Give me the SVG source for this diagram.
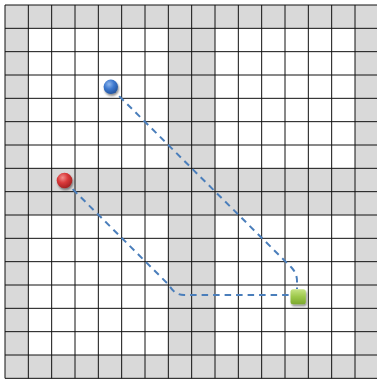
<svg xmlns="http://www.w3.org/2000/svg" width="377" height="379" viewBox="0 0 377 379">
  <defs>
    <style>
      .shade { fill: #d9d9d9; }
      .grid { fill: none; stroke: #111; stroke-width: 1; }
      .conn { fill: none; stroke: #4a7ebb; stroke-width: 2; stroke-dasharray: 6.5 5; }
    </style>
    <radialGradient id="gBlue" cx="0.38" cy="0.32" r="0.75">
      <stop offset="0" stop-color="#8fb6ec"/>
      <stop offset="0.45" stop-color="#3f7ad0"/>
      <stop offset="1" stop-color="#1f4f98"/>
    </radialGradient>
    <radialGradient id="gRed" cx="0.38" cy="0.32" r="0.75">
      <stop offset="0" stop-color="#f28d8a"/>
      <stop offset="0.45" stop-color="#d9393a"/>
      <stop offset="1" stop-color="#9a1e1e"/>
    </radialGradient>
    <linearGradient id="gGreen" x1="0" y1="0" x2="0" y2="1">
      <stop offset="0" stop-color="#c6e384"/>
      <stop offset="0.5" stop-color="#9cc84a"/>
      <stop offset="1" stop-color="#7ca82e"/>
    </linearGradient>
    <filter id="shadow" x="-50%" y="-50%" width="200%" height="200%">
      <feGaussianBlur in="SourceAlpha" stdDeviation="1.2"/>
      <feOffset dx="1" dy="1.5" result="b"/>
      <feComponentTransfer><feFuncA type="linear" slope="0.45"/></feComponentTransfer>
      <feMerge><feMergeNode/><feMergeNode in="SourceGraphic"/></feMerge>
    </filter>
  </defs>

  <rect x="0" y="0" width="377" height="379" fill="#ffffff"/>

  <g id="shading">
    <rect class="shade" x="5" y="5" width="373.33" height="23.33"/>
    <rect class="shade" x="5" y="355" width="373.33" height="23.33"/>
    <rect class="shade" x="5" y="5" width="23.33" height="373.33"/>
    <rect class="shade" x="355" y="5" width="23.33" height="373.33"/>
    <rect class="shade" x="168.33" y="5" width="46.67" height="373.33"/>
    <rect class="shade" x="5" y="168.33" width="373.33" height="46.67"/>
  </g>

  <g id="grid">
    <path class="grid" d="M5,5V378.33 M28.33,5V378.33 M51.67,5V378.33 M75,5V378.33 M98.33,5V378.33 M121.67,5V378.33 M145,5V378.33 M168.33,5V378.33 M191.67,5V378.33 M215,5V378.33 M238.33,5V378.33 M261.67,5V378.33 M285,5V378.33 M308.33,5V378.33 M331.67,5V378.33 M355,5V378.33 M378.33,5V378.33"/>
    <path class="grid" d="M5,5H378.33 M5,28.33H378.33 M5,51.67H378.33 M5,75H378.33 M5,98.33H378.33 M5,121.67H378.33 M5,145H378.33 M5,168.33H378.33 M5,191.67H378.33 M5,215H378.33 M5,238.33H378.33 M5,261.67H378.33 M5,285H378.33 M5,308.33H378.33 M5,331.67H378.33 M5,355H378.33 M5,378.33H378.33"/>
  </g>

  <g id="connectors">
    <path class="conn" d="M111,88 L291.5,267.5 Q297,273.5 297,281 L297,289"/>
    <path class="conn" d="M64.5,181 L169,285 Q174.5,295 184,295 L290,295"/>
  </g>

  <g id="node-blue" filter="url(#shadow)">
    <circle cx="110.8" cy="86.8" r="7.2" fill="url(#gBlue)"/>
  </g>
  <g id="node-red" filter="url(#shadow)">
    <circle cx="64.5" cy="180.5" r="7.8" fill="url(#gRed)"/>
  </g>
  <g id="node-green" filter="url(#shadow)">
    <rect x="290.5" y="289.3" width="15.3" height="15" rx="2.5" fill="url(#gGreen)"/>
  </g>
</svg>
